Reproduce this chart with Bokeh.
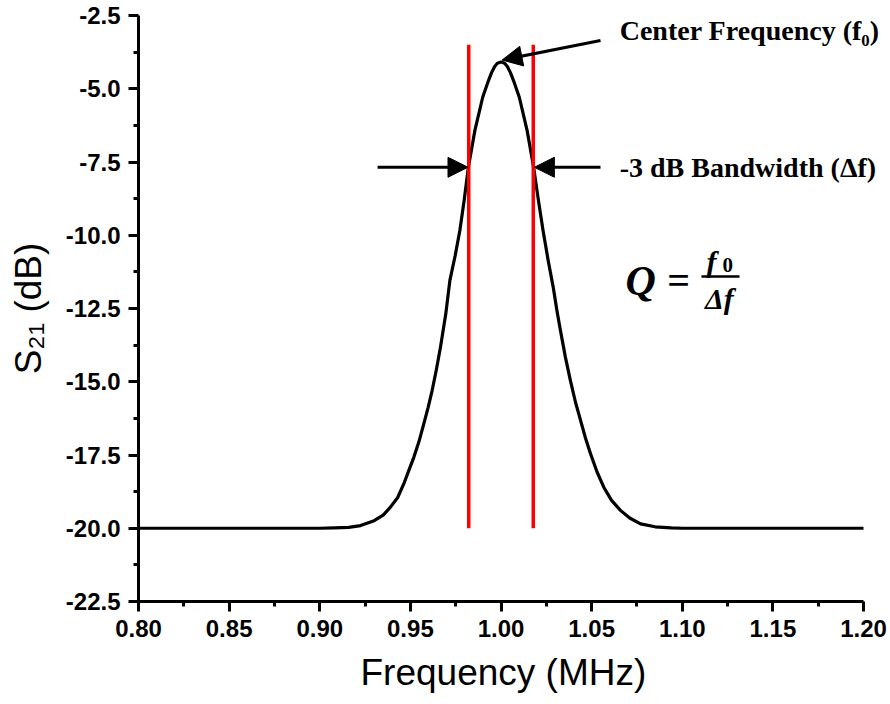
from bokeh.plotting import figure
from bokeh.models import (Range1d, FixedTicker, NumeralTickFormatter, Arrow,
                          NormalHead, Label, ColumnDataSource, Title)
from bokeh.embed import file_html
from bokeh.resources import INLINE

# ---- data ----
freq = [0.80, 0.85, 0.90, 0.908, 0.916, 0.9225, 0.930, 0.935, 0.939, 0.943,
        0.9464, 0.949, 0.9519, 0.9547, 0.9574, 0.9597, 0.962, 0.9643, 0.9666,
        0.9695, 0.9718, 0.9747, 0.9773, 0.9797, 0.982, 0.9856, 0.9899, 0.9931,
        0.9948, 0.9965, 0.998, 1.000, 1.002, 1.0035, 1.0052, 1.0069, 1.0101,
        1.0144, 1.0180, 1.0205, 1.0232, 1.0260, 1.0288, 1.0308, 1.0328, 1.0355,
        1.0383, 1.0411, 1.0439, 1.0466, 1.0494, 1.0530, 1.0567, 1.0610, 1.0659,
        1.071, 1.077, 1.085, 1.094, 1.10, 1.15, 1.20]
s21 = [-20.0, -20.0, -20.0, -19.99, -19.97, -19.91, -19.74, -19.55, -19.28, -18.95,
       -18.48, -18.05, -17.58, -17.05, -16.44, -15.90, -15.30, -14.60, -13.82,
       -12.70, -11.54, -10.70, -9.84, -8.80, -7.68, -6.42, -5.29, -4.72,
       -4.45, -4.24, -4.13, -4.09, -4.13, -4.24, -4.45, -4.72, -5.29,
       -6.42, -7.68, -8.75, -9.84, -10.85, -11.77, -12.55, -13.25, -14.15,
       -14.96, -15.70, -16.32, -16.92, -17.46, -18.08, -18.60, -19.05, -19.39,
       -19.65, -19.85, -19.95, -19.99, -20.0, -20.0, -20.0]

band_edges = [0.9822, 1.0178]      # -3 dB frequencies (red markers)
band_bottom = [-20.0, -20.0]
band_top = [-3.5, -3.5]

x_ticks = [0.80, 0.85, 0.90, 0.95, 1.00, 1.05, 1.10, 1.15, 1.20]
y_ticks = [-22.5, -20.0, -17.5, -15.0, -12.5, -10.0, -7.5, -5.0, -2.5]

# ---- figure ----
# frame reaches the right page edge so that the annotation texts are not clipped;
# the x axis itself is bounded to 0.80 .. 1.20
x_end = 0.8 + 752 / 725 * 0.4
p = figure(width=890, height=704, output_backend="svg", toolbar_location=None,
           x_range=Range1d(0.8, x_end), y_range=Range1d(-22.5, -2.5),
           min_border_left=138, min_border_right=0, min_border_top=15,
           min_border_bottom=103)
p.outline_line_color = None
p.grid.visible = False
p.background_fill_color = "white"
p.border_fill_color = "white"

x_minor = [(a + b) / 2 for a, b in zip(x_ticks[:-1], x_ticks[1:])]
y_minor = [(a + b) / 2 for a, b in zip(y_ticks[:-1], y_ticks[1:])]
p.xaxis.ticker = FixedTicker(ticks=x_ticks, minor_ticks=x_minor)
p.yaxis.ticker = FixedTicker(ticks=y_ticks, minor_ticks=y_minor)
p.xaxis.formatter = NumeralTickFormatter(format="0.00")
p.yaxis.formatter = NumeralTickFormatter(format="0.0")
p.xaxis.bounds = (0.8, 1.2)

for ax in (p.xaxis, p.yaxis):
    ax.axis_line_width = 3
    ax.axis_line_color = "black"
    ax.major_tick_line_width = 3
    ax.minor_tick_line_width = 3
    ax.major_tick_line_color = "black"
    ax.minor_tick_line_color = "black"
    ax.major_tick_in = 0
    ax.major_tick_out = 10
    ax.minor_tick_in = 0
    ax.minor_tick_out = 5
    ax.major_label_text_font = "Liberation Sans"
    ax.major_label_text_font_style = "bold"
    ax.major_label_text_font_size = "24px"
    ax.major_label_text_color = "black"
    ax.major_label_standoff = 8
    ax.axis_label_text_font = "Liberation Sans"
    ax.axis_label_text_font_style = "normal"
    ax.axis_label_text_font_size = "37px"
    ax.axis_label_text_color = "black"

p.yaxis.axis_label = "S₂₁ (dB)"
p.yaxis.axis_label_standoff = 14

# x axis title placed under the 0.80 .. 1.20 axis (not the widened frame)
p.add_layout(Title(text="Frequency (MHz)", align="left", offset=222,
                   text_font="Liberation Sans", text_font_style="normal",
                   text_font_size="37px", text_color="black", standoff=21), "below")

# ---- curve and markers ----
src = ColumnDataSource(dict(f=freq, s=s21))
p.line("f", "s", source=src, line_color="black", line_width=3.2, line_join="round")
p.segment(x0=band_edges, y0=band_bottom, x1=band_edges, y1=band_top,
          line_color="#ff0000", line_width=3.5)

# ---- annotations ----
def arrow(xs, ys, xe, ye):
    p.add_layout(Arrow(end=NormalHead(size=20, fill_color="black", line_color="black",
                                      line_width=1),
                       x_start=xs, y_start=ys, x_end=xe, y_end=ye,
                       line_width=3, line_color="black"))

arrow(1.0549, -3.35, 1.0006, -4.02)
arrow(0.9319, -7.68, 0.9818, -7.68)
arrow(1.0549, -7.68, 1.0184, -7.68)

serif = "Liberation Serif"
p.add_layout(Label(x=1.0655, y=-3.0, text="Center Frequency (f₀)", text_font=serif,
                   text_font_style="bold", text_font_size="28px", text_color="black",
                   text_align="left", text_baseline="middle"))
p.add_layout(Label(x=1.0655, y=-7.68, text="-3 dB Bandwidth (Δf)", text_font=serif,
                   text_font_style="bold", text_font_size="28px", text_color="black",
                   text_align="left", text_baseline="middle"))

p.add_layout(Label(x=1.077, y=-11.55, text="Q", text_font=serif,
                   text_font_style="bold italic", text_font_size="42px",
                   text_color="black", text_align="center", text_baseline="middle"))
p.add_layout(Label(x=1.098, y=-11.55, text="=", text_font=serif,
                   text_font_style="bold", text_font_size="40px",
                   text_color="black", text_align="center", text_baseline="middle"))
p.add_layout(Label(x=1.1161, y=-10.9, text="f", text_font=serif,
                   text_font_style="bold italic", text_font_size="30px",
                   text_color="black", text_align="center", text_baseline="middle"))
p.add_layout(Label(x=1.1251, y=-11.0, text="0", text_font=serif,
                   text_font_style="bold", text_font_size="21px",
                   text_color="black", text_align="center", text_baseline="middle"))
p.add_layout(Label(x=1.1205, y=-12.15, text="Δf", text_font=serif,
                   text_font_style="bold italic", text_font_size="30px",
                   text_color="black", text_align="center", text_baseline="middle"))
p.segment(x0=[1.1106], y0=[-11.41], x1=[1.1316], y1=[-11.41],
          line_color="black", line_width=2.5)

open("out.html", "w").write(file_html(p, INLINE))
